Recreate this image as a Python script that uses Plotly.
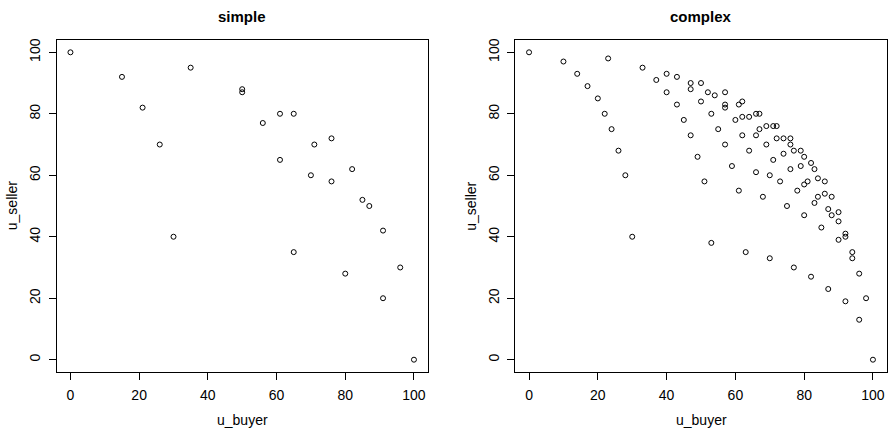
import plotly.graph_objects as go

# ---- data ----
simple_buyer = [0, 15, 21, 26, 30, 35, 50, 50, 56, 61, 61, 65, 65, 70, 71, 76, 76, 80, 82, 85, 87, 91, 91, 96, 100]
simple_seller = [100, 92, 82, 70, 40, 95, 88, 87, 77, 80, 65, 80, 35, 60, 70, 72, 58, 28, 62, 52, 50, 42, 20, 30, 0]

complex_pts = [
    (0, 100), (10, 97), (14, 93), (17, 89), (20, 85), (22, 80), (24, 75), (26, 68), (28, 60),
    (23, 98), (33, 95), (37, 91), (40, 93), (43, 92), (40, 87), (43, 83), (45, 78), (47, 73), (30, 40),
    (47, 90), (47, 88), (50, 90), (52, 87), (54, 86), (57, 87), (50, 84), (57, 83), (57, 82), (53, 80),
    (61, 83), (62, 84), (60, 78), (62, 79), (64, 79), (66, 80), (67, 80), (55, 75), (62, 73), (67, 75),
    (66, 73), (69, 76), (71, 76), (72, 76), (57, 70), (69, 70), (72, 72), (74, 72), (76, 72), (76, 70),
    (49, 66), (64, 68), (74, 67), (77, 68), (79, 68), (80, 66), (71, 65), (82, 64), (83, 62), (76, 62),
    (79, 63), (59, 63), (66, 61), (70, 60), (73, 58), (84, 59), (86, 58), (80, 57), (81, 58), (51, 58),
    (61, 55), (68, 53), (78, 55), (84, 53), (86, 54), (88, 53), (83, 51), (75, 50), (80, 47), (87, 49),
    (88, 47), (90, 48), (90, 45), (85, 43), (92, 41), (92, 40), (90, 39), (53, 38), (63, 35), (70, 33),
    (94, 35), (94, 33), (77, 30), (96, 28), (82, 27), (87, 23), (98, 20), (92, 19), (96, 13), (100, 0),
]
complex_buyer = [p[0] for p in complex_pts]
complex_seller = [p[1] for p in complex_pts]

tick_vals = [0, 20, 40, 60, 80, 100]
panel_titles = ["simple", "complex"]
x_title = "u_buyer"
y_title = "u_seller"

W, H = 889, 431
FONT = "Liberation Sans, Arial, Helvetica, sans-serif"

# pixel boxes of the two plot regions
left_box = (56.7, 427.7)
right_box = (515.3, 886.7)
top_px, bot_px = 40, 372

def px_x(v):
    return v / W

def px_y(v):
    return 1 - v / H

fig = go.Figure()
marker = dict(symbol="circle-open", size=5, color="black", line=dict(width=1, color="black"))
fig.add_trace(go.Scatter(x=simple_buyer, y=simple_seller, mode="markers", marker=marker,
                         xaxis="x", yaxis="y", showlegend=False, hoverinfo="x+y"))
fig.add_trace(go.Scatter(x=complex_buyer, y=complex_seller, mode="markers", marker=marker,
                         xaxis="x2", yaxis="y2", showlegend=False, hoverinfo="x+y"))

axis_common = dict(
    range=[-4, 104], tickmode="array", tickvals=tick_vals, ticktext=[str(t) for t in tick_vals],
    showline=True, mirror=True, linecolor="black", linewidth=1,
    ticks="outside", ticklen=7, tickwidth=1, tickcolor="black",
    showgrid=False, zeroline=False, automargin=False,
    tickfont=dict(family=FONT, size=14, color="black"),
)

ydom = [px_y(bot_px), px_y(top_px)]
fig.update_layout(
    width=W, height=H,
    margin=dict(l=0, r=0, t=0, b=0),
    paper_bgcolor="white", plot_bgcolor="white",
    xaxis=dict(domain=[px_x(left_box[0]), px_x(left_box[1])], anchor="y", ticklabelstandoff=3, **axis_common),
    yaxis=dict(domain=ydom, anchor="x", tickangle=-90, ticklabelstandoff=3, **axis_common),
    xaxis2=dict(domain=[px_x(right_box[0]), px_x(right_box[1])], anchor="y2", ticklabelstandoff=3, **axis_common),
    yaxis2=dict(domain=ydom, anchor="x2", tickangle=-90, ticklabelstandoff=3, **axis_common),
)

annotations = []
for box, title in zip([left_box, right_box], panel_titles):
    cx = (box[0] + box[1]) / 2
    annotations.append(dict(text=f"<b>{title}</b>", x=px_x(cx), y=px_y(16), xref="paper", yref="paper",
                            showarrow=False, xanchor="center", yanchor="middle",
                            font=dict(family=FONT, size=15, color="black")))
    annotations.append(dict(text=x_title, x=px_x(cx), y=px_y(420), xref="paper", yref="paper",
                            showarrow=False, xanchor="center", yanchor="middle",
                            font=dict(family=FONT, size=14, color="black")))
    annotations.append(dict(text=y_title, x=px_x(box[0] - 44.5), y=px_y((top_px + bot_px) / 2),
                            xref="paper", yref="paper", textangle=-90,
                            showarrow=False, xanchor="center", yanchor="middle",
                            font=dict(family=FONT, size=14, color="black")))
fig.update_layout(annotations=annotations)

fig.write_html("out.html")
